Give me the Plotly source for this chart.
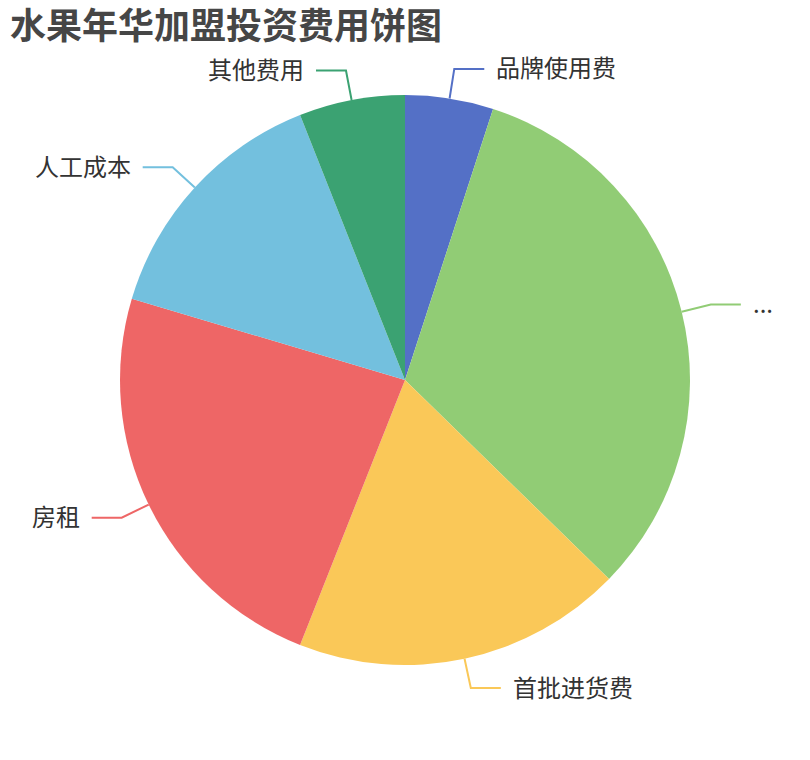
import math
import plotly.graph_objects as go

# data (share of total, %)
labels = ["品牌使用费", "...", "首批进货费", "房租", "人工成本", "其他费用"]
values = [5.0, 32.3, 18.7, 23.6, 14.4, 6.0]
colors = ["#5470c6", "#91cc75", "#fac858", "#ee6666", "#73c0de", "#3ba272"]

W, H = 810, 760
cx, cy, r = 405, 380, 285      # pie centre / radius in pixels
len1, len2, gap = 30, 30, 10   # label line segments

font = "Noto Sans CJK SC, Noto Sans, sans-serif"

fig = go.Figure(go.Pie(
    labels=labels,
    values=values,
    sort=False,
    direction="clockwise",
    rotation=0,
    textinfo="none",
    hoverinfo="label+percent",
    marker=dict(colors=colors, line=dict(width=0)),
    domain=dict(x=[(cx - r) / W, (cx + r) / W], y=[(H - cy - r) / H, (H - cy + r) / H]),
    showlegend=False,
))


def px(x, y):
    return x / W, 1 - y / H


# leader lines and labels placed from each slice's middle angle
total = sum(values)
cum = 0
for lab, v, c in zip(labels, values, colors):
    mid = (cum + v / 2) / total * 2 * math.pi
    cum += v
    sx, sy = math.sin(mid), -math.cos(mid)
    x0, y0 = cx + r * sx, cy + r * sy
    x1, y1 = cx + (r + len1) * sx, cy + (r + len1) * sy
    side = 1 if sx >= 0 else -1
    x2 = x1 + side * len2
    p0, p1, p2 = px(x0, y0), px(x1, y1), px(x2, y1)
    fig.add_shape(type="path", xref="paper", yref="paper",
                  path=f"M {p0[0]},{p0[1]} L {p1[0]},{p1[1]} L {p2[0]},{p2[1]}",
                  line=dict(color=c, width=2))
    tx, ty = px(x2 + side * gap, y1 - 2)
    fig.add_annotation(x=tx, y=ty, xref="paper", yref="paper", text=lab,
                       showarrow=False, xanchor="left" if side > 0 else "right",
                       yanchor="middle", font=dict(size=24, color="#333333", family=font))

fig.update_layout(
    width=W, height=H,
    margin=dict(l=0, r=0, t=0, b=0),
    paper_bgcolor="white",
    title=dict(text="<b>水果年华加盟投资费用饼图</b>", x=10 / W, xanchor="left",
               y=1 - 14 / H, yanchor="top",
               font=dict(size=36, color="#464646", family=font)),
)

# drop the page's default body margin so the figure sits at the window corner
fig.write_html("out.html", config={"displayModeBar": False},
               post_script="document.body.style.margin='0';")
